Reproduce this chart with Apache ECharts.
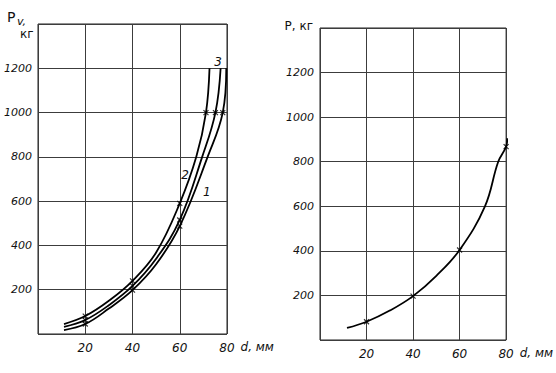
<!DOCTYPE html>
<html><head><meta charset="utf-8">
<script src="https://cdn.jsdelivr.net/npm/echarts@6/dist/echarts.min.js"></script>
<style>html,body{margin:0;padding:0;background:#fff}#c{width:556px;height:373px}</style>
</head><body><div id="c"></div>
<script>
// ---- data (d, mm -> P, kg) ----
const xMin = 0, xMax = 80, xStep = 20;
const yMin = 0, yMax = 1400, yStep = 200;

// left panel: three curves P_v(d)
const curve1 = [[11,18],[20,45],[30,115],[40,198],[50,315],[60,487],[71.8,800],[78.2,1000],[79.7,1200]];
const curve2 = [[11,45],[20,81],[30,150],[40,240],[50,368],[60,590],[67,800],[71.1,1000],[72.6,1200]];
const curve3 = [[11,32],[20,63],[30,130],[40,217],[50,340],[60,515],[69.5,800],[75.1,1000],[77.3,1200]];
const marked1 = [20,40,60,78.2];
const marked2 = [20,40,60,71.1];
const marked3 = [20,40,60,75.1];
const curveNames = ['1','2','3'];
const curveNamePos = [[71.5,641],[62.2,718],[76.2,1228]];

// right panel: one curve P(d)
const curveP = [[11.6,54],[20,82],[30,132],[40,197],[50,288],[60,404],[70.9,600],[76.6,800],[80,868],[80.5,905]];
const markedP = [20,40,60,80];

const leftYName = ['P','v,','кг'];
const rightYName = 'P, кг';
const xName = 'd, мм';

// ---- styling ----
const FONT = 'DejaVu Sans';
const ink = '#111';
const gridCol = '#3c3c3c';
const crossPath = 'path://M0,0L10,10M10,0L0,10';

function xAxis(gi){
  return {
    type:'value', gridIndex:gi, min:xMin, max:xMax, interval:xStep,
    axisLine:{show:false}, axisTick:{show:false},
    splitLine:{show:true, lineStyle:{color:gridCol, width:1}},
    axisLabel:{showMinLabel:false, margin:8, color:ink, fontFamily:FONT, fontStyle:'italic', fontSize:12, formatter:v=>String(v)},
    name:xName, nameLocation:'end', nameGap:9,
    nameTextStyle:{color:ink, fontFamily:FONT, fontStyle:'italic', fontSize:12, verticalAlign:'top', padding:[7,0,0,0]}
  };
}
function yAxis(gi, extra){
  return Object.assign({
    type:'value', gridIndex:gi, min:yMin, max:yMax, interval:yStep,
    axisLine:{show:false}, axisTick:{show:false},
    splitLine:{show:true, lineStyle:{color:gridCol, width:1}},
    axisLabel:{showMinLabel:false, showMaxLabel:false, margin:6, color:ink, fontFamily:FONT, fontStyle:'italic', fontSize:11, formatter:v=>String(v)}
  }, extra||{});
}
function lineSeries(data, gi, label, labelPos){
  const s = {
    type:'line', xAxisIndex:gi, yAxisIndex:gi, data:data,
    smooth:0.4, showSymbol:false, clip:false,
    lineStyle:{color:'#000', width:1.8}, z:3, silent:true
  };
  if (label){
    s.markPoint = {
      symbol:'circle', symbolSize:1, itemStyle:{color:'rgba(0,0,0,0)'},
      label:{show:true, position:'inside', formatter:label, color:ink, fontFamily:FONT, fontStyle:'italic', fontSize:12},
      data:[{coord:labelPos}]
    };
  }
  return s;
}
function markSeries(data, marked, gi){
  return {
    type:'scatter', xAxisIndex:gi, yAxisIndex:gi,
    data:data.filter(p=>marked.indexOf(p[0])>=0),
    symbol:crossPath, symbolSize:5, clip:false,
    itemStyle:{color:'none', borderColor:'#000', borderWidth:1.2}, z:4, silent:true
  };
}

const chart = echarts.init(document.getElementById('c'), null, {renderer:'svg'});
chart.setOption({
  backgroundColor:'#fff',
  animation:false,
  grid:[
    {left:38, top:24, width:189, height:310, show:true, borderColor:'#222', borderWidth:1, backgroundColor:'transparent'},
    {left:320, top:28, width:191, height:312, show:true, borderColor:'#222', borderWidth:1, backgroundColor:'transparent'}
  ],
  xAxis:[xAxis(0), xAxis(1)],
  yAxis:[
    yAxis(0),
    yAxis(1, {name:rightYName, nameLocation:'end', nameGap:2,
      nameTextStyle:{color:ink, fontFamily:FONT, fontSize:12, align:'right', verticalAlign:'middle', padding:[0,7,0,0]}})
  ],
  graphic:[
    {type:'text', left:7, top:10, style:{text:leftYName[0], font:'14px "DejaVu Sans"', fill:ink}},
    {type:'text', left:17, top:16, style:{text:leftYName[1], font:'italic 11px "DejaVu Sans"', fill:ink}},
    {type:'text', left:20, top:28, style:{text:leftYName[2], font:'12px "DejaVu Sans"', fill:ink}}
  ],
  series:[
    lineSeries(curve1, 0, curveNames[0], curveNamePos[0]),
    lineSeries(curve2, 0, curveNames[1], curveNamePos[1]),
    lineSeries(curve3, 0, curveNames[2], curveNamePos[2]),
    markSeries(curve1, marked1, 0),
    markSeries(curve2, marked2, 0),
    markSeries(curve3, marked3, 0),
    lineSeries(curveP, 1),
    markSeries(curveP, markedP, 1)
  ]
});
</script></body></html>
